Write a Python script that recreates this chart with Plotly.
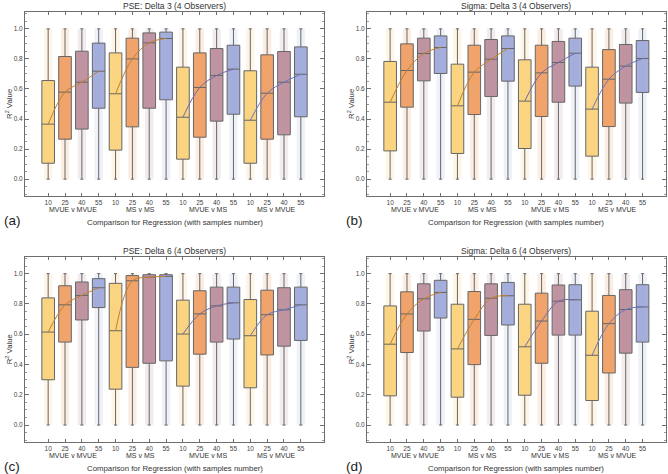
import plotly.graph_objects as go

# ---------------- data ----------------
groups = ["MVUE v MVUE", "MS v MS", "MVUE v MS", "MS v MVUE"]
samples = ["10", "25", "40", "55"]
titles = ["PSE: Delta 3 (4 Observers)", "Sigma: Delta 3 (4 Observers)",
          "PSE: Delta 6 (4 Observers)", "Sigma: Delta 6 (4 Observers)"]
panel_letters = ["(a)", "(b)", "(c)", "(d)"]

# order: group-major (MVUE v MVUE 10,25,40,55, MS v MS 10,...)
pse_d3_q1 = [0.106, 0.266, 0.333, 0.472, 0.193, 0.348, 0.472, 0.528,
             0.133, 0.279, 0.386, 0.432, 0.106, 0.266, 0.295, 0.415]
pse_d3_med = [0.366, 0.579, 0.645, 0.718, 0.568, 0.800, 0.907, 0.936,
              0.412, 0.610, 0.690, 0.732, 0.392, 0.572, 0.645, 0.698]
pse_d3_q3 = [0.656, 0.816, 0.851, 0.905, 0.840, 0.938, 0.973, 0.978,
             0.745, 0.840, 0.869, 0.891, 0.721, 0.827, 0.849, 0.880]

sig_d3_q1 = [0.188, 0.479, 0.654, 0.703, 0.171, 0.430, 0.550, 0.652,
             0.204, 0.417, 0.512, 0.619, 0.153, 0.350, 0.506, 0.577]
sig_d3_med = [0.512, 0.723, 0.836, 0.876, 0.488, 0.712, 0.798, 0.869,
              0.519, 0.707, 0.776, 0.838, 0.466, 0.665, 0.752, 0.803]
sig_d3_q3 = [0.783, 0.900, 0.938, 0.953, 0.765, 0.891, 0.929, 0.953,
             0.794, 0.891, 0.916, 0.938, 0.745, 0.862, 0.896, 0.922]

pse_d6_q1 = [0.299, 0.548, 0.694, 0.776, 0.237, 0.381, 0.408, 0.424,
             0.257, 0.468, 0.548, 0.568, 0.246, 0.463, 0.521, 0.559]
pse_d6_med = [0.614, 0.794, 0.856, 0.907, 0.623, 0.953, 0.976, 0.982,
              0.601, 0.734, 0.787, 0.807, 0.590, 0.729, 0.761, 0.794]
pse_d6_q3 = [0.840, 0.920, 0.945, 0.967, 0.936, 0.987, 0.993, 0.993,
             0.825, 0.887, 0.911, 0.911, 0.829, 0.891, 0.907, 0.911]

sig_d6_q1 = [0.193, 0.479, 0.621, 0.707, 0.184, 0.399, 0.592, 0.661,
             0.197, 0.408, 0.594, 0.594, 0.162, 0.344, 0.475, 0.548]
sig_d6_med = [0.534, 0.734, 0.834, 0.876, 0.503, 0.698, 0.838, 0.854,
              0.517, 0.687, 0.818, 0.827, 0.461, 0.670, 0.763, 0.780]
sig_d6_q3 = [0.787, 0.880, 0.933, 0.956, 0.798, 0.882, 0.933, 0.942,
             0.798, 0.871, 0.925, 0.927, 0.752, 0.856, 0.894, 0.927]

whisker_low = [0.0] * 16
whisker_high = [1.0] * 16

panels = [
    (pse_d3_q1, pse_d3_med, pse_d3_q3),
    (sig_d3_q1, sig_d3_med, sig_d3_q3),
    (pse_d6_q1, pse_d6_med, pse_d6_q3),
    (sig_d6_q1, sig_d6_med, sig_d6_q3),
]

# ---------------- styles ----------------
W, H = 668, 474
box_fill = ["rgba(249,208,118,0.9)", "rgba(238,154,92,0.9)",
            "rgba(184,134,150,0.88)", "rgba(154,164,216,0.88)"]
dot_col = ["rgba(245,176,60,0.13)", "rgba(232,118,42,0.13)",
           "rgba(140,80,104,0.11)", "rgba(110,126,200,0.11)"]
box_line = "#666666"
median_line_col = ["#c0802e", "#c0802e", "#7468a6", "#6a76bc"]
font_fam = "Liberation Sans, Arial, sans-serif"
txt_col = "#333333"
frame_col = "#6e6e6e"

# frames in pixels: (left, right, top, bottom)
frames = [(25, 324, 12.3, 195.7), (367, 665.7, 12.3, 195.7),
          (25, 324, 257, 441.7), (367, 665.7, 257, 441.7)]

fig = go.Figure()
annotations = []
layout_axes = {}

for p, (q1, med, q3) in enumerate(panels):
    ax = "" if p == 0 else str(p + 1)
    xref, yref = "x" + ax, "y" + ax
    positions = list(range(1, 17))

    # faint point cloud band behind each box
    for s in range(4):
        idx = [g * 4 + s for g in range(4)]
        fig.add_trace(go.Bar(
            x=[positions[i] for i in idx],
            y=[whisker_high[i] - whisker_low[i] for i in idx],
            base=[whisker_low[i] for i in idx],
            width=0.5, marker=dict(color=dot_col[s], line=dict(width=0)),
            xaxis=xref, yaxis=yref, showlegend=False, hoverinfo="skip"))

    # boxes
    for s in range(4):
        idx = [g * 4 + s for g in range(4)]
        fig.add_trace(go.Box(
            x=[positions[i] for i in idx],
            q1=[q1[i] for i in idx], median=[med[i] for i in idx],
            q3=[q3[i] for i in idx],
            lowerfence=[whisker_low[i] for i in idx],
            upperfence=[whisker_high[i] for i in idx],
            width=0.75, whiskerwidth=0.25, boxpoints=False,
            fillcolor=box_fill[s], line=dict(color=box_line, width=1),
            xaxis=xref, yaxis=yref, showlegend=False))

    # median connecting lines
    for g in range(4):
        idx = [g * 4 + s for s in range(4)]
        fig.add_trace(go.Scatter(
            x=[positions[i] for i in idx], y=[med[i] for i in idx],
            mode="lines", line=dict(color=median_line_col[g], width=1, shape="spline"),
            xaxis=xref, yaxis=yref, showlegend=False, hoverinfo="skip"))

    l, r, t, b = frames[p]
    layout_axes["xaxis" + ax] = dict(
        domain=[l / W, r / W], range=[-0.375, 17.375], anchor=yref,
        tickvals=positions, ticktext=samples * 4,
        ticks="inside", ticklen=3, tickcolor=frame_col, mirror="ticks",
        showline=True, linecolor=frame_col, linewidth=1, showgrid=False,
        zeroline=False, tickfont=dict(size=6.5, color="#444", family=font_fam))
    layout_axes["yaxis" + ax] = dict(
        domain=[1 - b / H, 1 - t / H], range=[-0.11, 1.11], anchor=xref,
        tickvals=[0, 0.2, 0.4, 0.6, 0.8, 1.0],
        ticktext=["0.0", "0.2", "0.4", "0.6", "0.8", "1.0"],
        ticks="inside", ticklen=4, tickcolor=frame_col, mirror="ticks",
        minor=dict(dtick=0.05, tick0=0, ticks="inside", ticklen=2, tickcolor="#999"),
        showline=True, linecolor=frame_col, linewidth=1, showgrid=False,
        zeroline=False, tickfont=dict(size=6.5, color="#444", family=font_fam))

    cx = (l + r) / 2
    annotations.append(dict(text=titles[p], x=cx / W, y=1 - (t - 6.4) / H,
                            xref="paper", yref="paper", showarrow=False,
                            font=dict(size=8.5, color=txt_col, family=font_fam),
                            xanchor="center", yanchor="middle"))
    for g in range(4):
        annotations.append(dict(text=groups[g], x=g * 4 + 2.5, y=1 - (b + 13.3) / H,
                                xref=xref, yref="paper", showarrow=False,
                                font=dict(size=7, color=txt_col, family=font_fam),
                                xanchor="center", yanchor="middle"))
    annotations.append(dict(text="Comparison for Regression (with samples number)",
                            x=cx / W, y=1 - (b + 27) / H, xref="paper", yref="paper",
                            showarrow=False, font=dict(size=7.8, color=txt_col, family=font_fam),
                            xanchor="center", yanchor="middle"))
    annotations.append(dict(text="R<sup>2</sup> Value", x=(l - 16) / W, y=1 - ((t + b) / 2) / H,
                            xref="paper", yref="paper", showarrow=False, textangle=-90,
                            font=dict(size=7.8, color=txt_col, family=font_fam),
                            xanchor="center", yanchor="middle"))
    annotations.append(dict(text=panel_letters[p], x=(l - 13) / W, y=1 - (b + 24.5) / H,
                            xref="paper", yref="paper", showarrow=False,
                            font=dict(size=13.5, color="#222", family=font_fam),
                            xanchor="center", yanchor="middle"))

fig.update_layout(
    width=W, height=H, margin=dict(l=0, r=0, t=0, b=0),
    paper_bgcolor="white", plot_bgcolor="white",
    barmode="overlay", boxmode="overlay", showlegend=False,
    annotations=annotations, **layout_axes)

fig.write_html("out.html", config={"displayModeBar": False},
               post_script="document.body.style.margin='0';document.body.style.overflow='hidden';")
